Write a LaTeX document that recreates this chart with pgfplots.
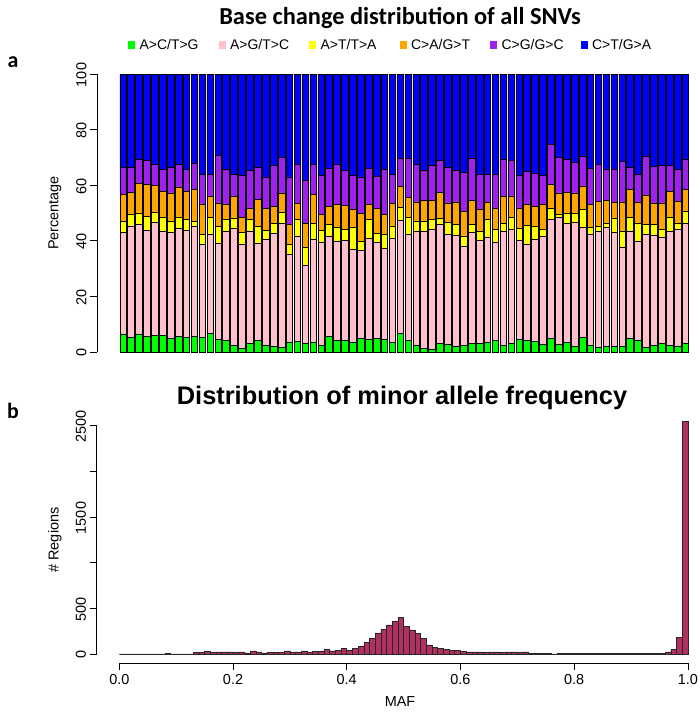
\documentclass[border=0pt]{standalone}
\usepackage{pgfplots}
\pgfplotsset{compat=1.18}
\usepackage{pgfplotstable}
\usepackage{fontspec}
\setmainfont{Liberation Sans}
\newfontfamily\calibri{Carlito}
\definecolor{cgreen}{HTML}{00FF00}
\definecolor{cpink}{HTML}{FFC0CB}
\definecolor{cyellow}{HTML}{FFFF00}
\definecolor{corange}{HTML}{FFA500}
\definecolor{cpurple}{HTML}{A020F0}
\definecolor{cblue}{HTML}{0000FF}
\definecolor{cmaroon}{HTML}{B03060}

\pgfplotstableread{
x g p y o u b
1 6.5 36.5 4.2 9.6 9.6 33.6
2 5.3 40.1 4.0 8.0 9.0 33.6
3 6.5 39.3 4.2 10.6 8.6 30.8
4 5.5 38.3 5.0 11.4 8.6 31.2
5 5.9 40.7 3.6 9.8 7.7 32.3
6 5.9 37.5 5.0 9.4 8.0 34.2
7 4.9 38.3 3.8 10.2 9.2 33.6
8 5.5 38.9 4.0 11.0 8.0 32.6
9 5.3 38.5 3.8 10.2 7.8 34.4
10 5.5 39.8 1.7 11.4 9.6 32.0
11 5.3 33.3 3.6 10.8 10.8 36.2
12 6.8 35.4 6.2 7.6 8.0 36.0
13 4.7 34.5 6.0 8.4 17.1 29.3
14 4.1 39.3 4.2 5.4 12.8 34.2
15 2.3 42.3 3.6 7.8 8.0 36.0
16 1.4 37.4 4.2 5.4 15.0 36.6
17 3.1 40.5 4.2 4.0 13.5 34.7
18 4.1 35.1 6.0 9.8 11.4 33.6
19 2.6 38.0 3.2 7.8 11.4 37.0
20 2.0 40.6 3.8 6.0 14.6 33.0
21 1.7 44.7 3.8 7.0 12.9 29.9
22 3.6 31.4 3.6 7.4 17.0 37.0
23 3.8 38.0 6.0 5.6 14.3 32.3
24 3.1 28.1 6.4 8.8 15.2 38.4
25 3.6 37.0 5.8 10.4 10.6 32.6
26 2.6 37.0 4.2 5.8 13.9 36.5
27 5.5 36.3 4.0 6.6 13.8 33.8
28 4.1 35.7 5.0 8.2 14.7 32.3
29 4.2 36.0 3.8 8.8 12.5 34.7
30 3.6 33.2 8.2 6.4 12.1 36.5
31 4.9 31.7 3.2 10.0 13.2 37.0
32 4.7 36.3 6.6 5.4 13.2 33.8
33 4.8 34.6 3.4 8.8 11.6 36.8
34 4.4 33.0 4.8 7.2 16.4 34.2
35 3.6 37.4 4.4 8.0 10.6 36.0
36 6.8 40.6 4.6 7.6 10.2 30.2
37 4.2 38.0 6.2 7.2 14.2 30.2
38 2.4 41.2 3.6 6.8 13.7 32.3
39 1.4 42.0 3.8 7.4 10.6 34.8
40 1.1 43.1 3.4 7.0 12.4 33.0
41 3.1 42.9 2.2 9.2 11.4 31.2
42 2.9 39.3 4.4 7.0 12.8 33.6
43 1.9 40.1 3.8 8.2 11.2 34.8
44 2.5 35.7 3.6 8.8 14.0 35.4
45 3.1 39.9 2.8 8.8 15.2 30.2
46 3.1 37.1 3.2 8.0 12.6 36.0
47 3.6 37.8 6.2 6.2 10.2 36.0
48 4.3 35.3 4.4 7.8 12.3 35.9
49 2.5 41.1 2.8 9.6 13.5 30.5
50 3.2 41.0 4.2 7.8 12.6 31.2
51 4.4 35.8 4.4 7.2 11.7 36.5
52 4.3 34.5 6.8 7.4 12.0 35.0
53 3.8 36.8 4.6 7.2 12.0 35.6
54 2.8 38.8 2.6 9.0 10.3 36.5
55 4.9 42.7 4.0 8.6 14.7 25.1
56 2.9 45.7 1.0 7.6 12.9 29.9
57 3.5 42.9 3.4 7.6 11.8 30.8
58 2.2 44.4 3.2 7.4 11.1 31.7
59 5.3 39.7 6.2 8.6 10.6 29.6
60 2.6 39.6 2.6 8.2 13.2 33.8
61 1.7 41.9 1.6 9.0 13.5 32.3
62 1.9 43.1 1.4 8.2 11.3 34.1
63 1.9 41.1 5.2 5.8 11.8 34.2
64 1.9 35.7 6.0 10.4 14.6 31.4
65 4.9 38.7 4.8 10.2 7.8 33.6
66 4.1 35.9 6.4 7.6 10.1 35.9
67 1.7 40.5 3.6 10.6 14.0 29.6
68 2.4 39.6 3.8 7.8 13.2 33.2
69 3.1 38.3 2.6 9.6 13.5 32.9
70 2.5 40.9 5.2 9.2 9.2 33.0
71 2.2 41.8 2.4 7.8 11.4 34.4
72 3.1 43.3 4.4 7.8 10.9 30.5
}\basetab

\pgfplotstableread{
x c
0.00 0
0.01 0
0.02 0
0.03 0
0.04 0
0.05 0
0.06 0
0.07 0
0.08 5
0.09 0
0.10 0
0.11 0
0.12 0
0.13 15
0.14 15
0.15 25
0.16 15
0.17 22
0.18 22
0.19 22
0.20 15
0.21 22
0.22 11
0.23 33
0.24 22
0.25 11
0.26 18
0.27 18
0.28 18
0.29 33
0.30 22
0.31 22
0.32 33
0.33 22
0.34 29
0.35 29
0.36 47
0.37 33
0.38 40
0.39 58
0.40 36
0.41 62
0.42 84
0.43 124
0.44 172
0.45 230
0.46 266
0.47 318
0.48 354
0.49 398
0.50 300
0.51 263
0.52 226
0.53 172
0.54 99
0.55 73
0.56 58
0.57 47
0.58 40
0.59 36
0.60 25
0.61 22
0.62 22
0.63 22
0.64 15
0.65 22
0.66 22
0.67 15
0.68 22
0.69 22
0.70 15
0.71 22
0.72 8
0.73 8
0.74 8
0.75 8
0.76 0
0.77 4
0.78 4
0.79 4
0.80 4
0.81 4
0.82 4
0.83 4
0.84 4
0.85 4
0.86 4
0.87 4
0.88 4
0.89 4
0.90 4
0.91 4
0.92 4
0.93 4
0.94 4
0.95 4
0.96 22
0.97 51
0.98 179
0.99 2550
1.00 2550
}\histtab

\begin{document}
\begin{tikzpicture}
\useasboundingbox (0,0) rectangle (700bp,712bp);
\node[font=\calibri\bfseries\fontsize{24.5}{28}\selectfont] at (400bp,694bp) {Base change distribution of all SNVs};
\node[font=\calibri\bfseries\fontsize{22}{26}\selectfont] at (13bp,650bp) {a};
\node[font=\calibri\bfseries\fontsize{22}{26}\selectfont] at (13bp,301bp) {b};
\node[font=\bfseries\fontsize{25.5}{29}\selectfont] at (402bp,314bp) {Distribution of minor allele frequency};
\node[font=\fontsize{14.5}{17}\selectfont, rotate=90] at (55bp,499bp) {Percentage};
\node[font=\fontsize{14.5}{17}\selectfont, rotate=90] at (55bp,172bp) {\# Regions};
\node[font=\fontsize{14.5}{17}\selectfont] at (400bp,10bp) {MAF};

\begin{axis}[
  at={(97bp,348.9bp)}, anchor=south west,
  scale only axis, width=600.3bp, height=300.2bp,
  xmin=-2.29, xmax=73.5, ymin=-4, ymax=104,
  clip=false,
  axis x line=none, axis y line*=left,
  y axis line style={draw=none},
  ybar stacked, bar width=0.8333,
  xtick=\empty,
  ytick={0,20,40,60,80,100},
  yticklabels={0,20,40,60,80,100},
  tick align=outside, major tick length=7bp,
  tick style={black, line width=0.6bp},
  yticklabel style={rotate=90, anchor=south, font=\fontsize{14.5}{17}\selectfont, xshift=-1bp},
  every axis plot/.append style={draw=black, line width=0.5bp},
  legend columns=6,
  legend image code/.code={\path[#1,draw=none] (0bp,-3.5bp) rectangle (7bp,3.5bp);},
  legend style={draw=none, fill=none, at={(axis description cs:0.0466,1.0596)}, anchor=west,
    font=\fontsize{14}{16}\selectfont, nodes={inner sep=0pt},
    /tikz/every odd column/.append style={column sep=4.5bp},
    /tikz/every even column/.append style={column sep=15bp}},
]
\addplot[fill=cgreen] table[x=x,y=g]{\basetab};
\addlegendentry{\makebox[64bp][l]{A>C/T>G}}
\addplot[fill=cpink] table[x=x,y=p]{\basetab};
\addlegendentry{\makebox[64bp][l]{A>G/T>C}}
\addplot[fill=cyellow] table[x=x,y=y]{\basetab};
\addlegendentry{\makebox[64bp][l]{A>T/T>A}}
\addplot[fill=corange] table[x=x,y=o]{\basetab};
\addlegendentry{\makebox[64bp][l]{C>A/G>T}}
\addplot[fill=cpurple] table[x=x,y=u]{\basetab};
\addlegendentry{\makebox[64bp][l]{C>G/G>C}}
\addplot[fill=cblue] table[x=x,y=b]{\basetab};
\addlegendentry{\makebox[64bp][l]{C>T/G>A}}
\draw[black, line width=0.6bp] (axis cs:-2.29,0) -- (axis cs:-2.29,100);
\end{axis}

\begin{axis}[
  at={(96.6bp,48.9bp)}, anchor=south west,
  scale only axis, width=596.9bp, height=252bp,
  xmin=-0.04, xmax=1.01, ymin=-100, ymax=2660,
  clip=false,
  axis x line*=bottom, axis y line*=left,
  axis line style={draw=none},
  xtick={0,0.2,0.4,0.6,0.8,1},
  xticklabels={0.0,0.2,0.4,0.6,0.8,1.0},
  ytick={0,500,1000,1500,2000,2500},
  yticklabels={0,500,,1500,,2500},
  tick align=outside, major tick length=7bp,
  tick style={black, line width=0.6bp},
  yticklabel style={rotate=90, anchor=south, font=\fontsize{14.5}{17}\selectfont, xshift=-1bp},
  xticklabel style={anchor=north, font=\fontsize{14.5}{17}\selectfont, yshift=-1bp},
]
\addplot[ybar interval, fill=cmaroon, draw=black!85, line width=0.5bp] table[x=x,y=c]{\histtab};
\draw[black, line width=0.6bp] (axis cs:-0.04,0) -- (axis cs:-0.04,2500);
\draw[black, line width=0.6bp] (axis cs:0,-100) -- (axis cs:1,-100);
\end{axis}
\end{tikzpicture}
\end{document}
